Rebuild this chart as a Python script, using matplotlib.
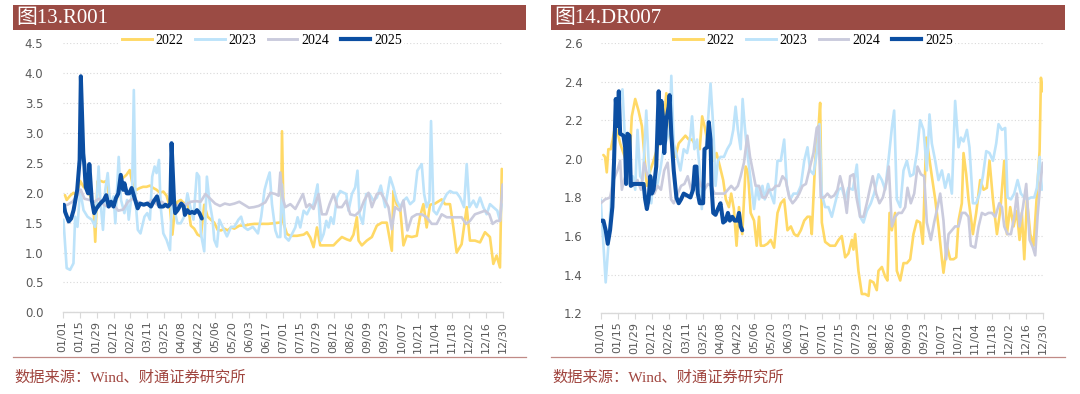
import matplotlib
matplotlib.use('Agg')
import matplotlib.pyplot as plt
from matplotlib.patches import Rectangle
from matplotlib.lines import Line2D
from matplotlib.font_manager import FontProperties

# ---------------- data ----------------
years = ['2022', '2023', '2024', '2025']
tick_labels = ['01/01', '01/15', '01/29', '02/12', '02/26', '03/11', '03/25', '04/08', '04/22',
               '05/06', '05/20', '06/03', '06/17', '07/01', '07/15', '07/29', '08/12', '08/26',
               '09/09', '09/23', '10/07', '10/21', '11/04', '11/18', '12/02', '12/16', '12/30']
tick_step_days = 14

titles = ['图13.R001', '图14.DR007']
source_text = '数据来源：Wind、财通证券研究所'

# R001 (day of year, value)
r001_2022_day = [1.9, 3.3, 6.1, 8.9, 11.6, 14.4, 17.2, 20.0, 22.7, 25.5, 26.9, 28.8, 31.1, 33.8, 36.6, 38.8,
                 41.6, 44.4, 47.1, 49.9, 52.7, 55.4, 58.2, 61.0, 63.8, 66.5, 69.3, 72.1, 74.9, 77.6, 80.4,
                 83.2, 85.9, 88.7, 90.7, 92.6, 94.8, 97.6, 100.4, 103.1, 105.9, 108.7, 111.5, 114.2, 117.0,
                 119.8, 122.5, 125.3, 128.1, 130.9, 133.6, 136.4, 139.2, 141.9, 146.1, 150.3, 154.4, 158.6,
                 164.1, 169.7, 174.4, 178.5, 180.5, 181.3, 182.7, 185.4, 188.2, 193.7, 199.2, 201.9, 204.7,
                 207.4, 210.2, 212.9, 218.4, 223.9, 226.7, 230.8, 234.9, 237.7, 240.4, 243.2, 244.6, 247.3,
                 251.4, 255.6, 259.7, 263.8, 267.9, 272.1, 273.4, 276.2, 278.9, 281.7, 284.4, 288.6, 292.7,
                 295.4, 298.2, 300.9, 303.7, 307.8, 313.3, 316.1, 320.2, 323.0, 325.7, 329.8, 334.0, 336.7,
                 340.8, 345.0, 349.1, 353.2, 356.0, 358.7, 361.5, 363.0]
r001_2022_val = [1.96, 1.88, 1.95, 2.0, 1.95, 2.2, 2.1, 2.05, 1.95, 1.75, 1.18, 2.19, 2.2, 2.18, 2.2, 1.85,
                 1.88, 1.85, 2.2, 2.25, 2.3, 2.38, 2.1, 2.05, 2.08, 2.1, 2.1, 2.12, 2.08, 2.05, 2.0,
                 2.02, 1.95, 1.75, 1.3, 1.7, 1.85, 1.88, 1.82, 1.85, 1.45, 1.4, 1.3, 1.27, 1.8,
                 1.6, 1.55, 1.5, 1.38, 1.37, 1.4, 1.37, 1.42, 1.4, 1.45, 1.45, 1.47, 1.48,
                 1.48, 1.48, 1.49, 1.5, 1.5, 3.03, 1.48, 1.31, 1.28, 1.28, 1.3, 1.34, 1.25,
                 1.09, 1.42, 1.12, 1.12, 1.12, 1.18, 1.26, 1.22, 1.2, 1.3, 1.59, 1.2, 1.12,
                 1.2, 1.26, 1.45, 1.5, 1.5, 1.03, 2.03, 1.8, 1.76, 1.12, 1.28, 1.26, 1.28,
                 1.6, 1.81, 1.42, 1.8, 1.82, 1.89, 1.81, 1.81, 1.42, 1.0, 1.14, 1.76, 1.2,
                 1.2, 1.17, 1.34, 1.26, 0.81, 0.95, 0.75, 2.4]

r001_2023_day = [0.6, 3.3, 6.1, 8.9, 10.3, 12.2, 14.4, 17.2, 20.5, 24.1, 26.9, 29.7, 31.1, 33.3, 35.2, 37.2,
                 39.4, 42.1, 43.5, 46.3, 48.2, 51.0, 53.2, 54.6, 57.4, 58.8, 60.2, 62.1, 64.3, 67.6, 69.9,
                 72.1, 74.0, 76.0, 77.6, 79.6, 81.0, 83.2, 85.9, 88.7, 90.7, 92.0, 94.8, 97.6, 100.4, 103.1,
                 105.4, 108.1, 110.9, 112.8, 114.2, 117.0, 119.2, 121.2, 123.9, 125.3, 127.5, 129.5, 132.2,
                 135.8, 139.2, 141.9, 145.3, 147.5, 149.7, 153.0, 157.2, 161.4, 164.1, 166.9, 168.9, 171.1,
                 173.0, 175.8, 177.7, 179.9, 181.3, 184.0, 186.8, 189.5, 192.3, 194.2, 196.4, 199.2, 201.9,
                 204.7, 207.4, 210.7, 213.5, 215.7, 217.9, 219.8, 221.7, 223.9, 226.7, 229.4, 232.2, 234.4,
                 236.3, 239.1, 241.8, 243.7, 245.4, 248.1, 250.9, 253.6, 256.9, 259.7, 263.0, 266.6, 270.7,
                 273.4, 276.2, 278.9, 281.7, 284.4, 287.2, 290.5, 293.2, 296.8, 298.8, 300.9, 303.2, 304.5,
                 306.5, 309.2, 312.0, 314.7, 317.5, 320.2, 323.0, 325.7, 328.5, 331.8, 334.0, 336.2, 339.5,
                 342.2, 345.0, 347.7, 350.5, 353.2, 356.0, 359.3, 361.5, 362.9]
r001_2023_val = [1.55, 0.74, 0.71, 0.82, 1.6, 1.43, 2.05, 1.71, 1.6, 1.55, 1.43, 2.44, 1.88, 1.38, 2.05, 2.33,
                 1.77, 1.94, 1.49, 2.6, 1.88, 1.66, 1.88, 1.55, 2.05, 3.72, 1.88, 1.38, 1.32, 1.6, 1.66,
                 1.55, 2.27, 2.44, 2.33, 2.55, 1.77, 1.32, 1.21, 1.04, 2.1, 1.77, 1.49, 1.49, 1.6, 1.99,
                 1.77, 1.55, 2.33, 2.27, 1.32, 1.02, 2.27, 1.88, 1.55, 1.21, 1.1, 1.55, 1.43,
                 1.27, 1.43, 1.43, 1.55, 1.6, 1.43, 1.38, 1.43, 1.32, 1.6, 2.05, 2.2, 2.34,
                 1.81, 1.37, 1.26, 1.26, 2.14, 1.26, 1.2, 1.31, 1.42, 1.59, 1.42, 1.7, 1.64,
                 1.76, 1.81, 2.14, 1.2, 1.31, 1.53, 1.42, 1.59, 1.48, 1.92, 2.03, 2.0, 1.98,
                 1.7, 1.98, 2.09, 2.37, 1.64, 1.48, 1.98, 1.98, 1.87, 1.92, 2.12, 1.76, 2.26,
                 2.09, 1.87, 1.76, 1.87, 1.92, 1.81, 1.87, 2.37, 2.48, 1.98, 1.76, 1.87, 3.2,
                 1.7, 1.64, 1.76, 1.87, 1.98, 2.03, 2.0, 2.0, 1.92, 1.76, 2.48, 1.76, 1.87,
                 1.76, 1.92, 1.76, 1.64, 1.81, 1.76, 1.7, 1.53, 1.81]

r001_2024_day = [0, 4, 8, 12, 15, 18, 22, 26, 30, 34, 38, 42, 46, 50, 54, 58, 62, 66, 70, 74, 78, 82, 86,
                 90, 94, 98, 102, 106, 110, 114, 118, 122, 126, 130, 134, 138, 142, 146, 150, 154, 158, 162,
                 167.5, 171.7, 175.8, 178.5, 179.9, 181.8, 184.0, 188.2, 192.3, 195.9, 198.6, 201.4, 204.1,
                 207.4, 211.5, 214.3, 217.9, 220.6, 223.9, 227.2, 230.8, 234.4, 237.7, 241.8, 245.9, 249.2,
                 252.8, 255.6, 259.7, 263.0, 266.6, 269.3, 272.1, 274.8, 278.9, 281.7, 285.0, 288.6, 292.7,
                 296.8, 300.9, 305.1, 309.2, 313.3, 317.5, 321.6, 325.7, 329.8, 333.4, 336.7, 340.8, 345.0,
                 349.1, 352.7, 355.4, 358.7, 361.5, 363.7]
r001_2024_val = [1.78, 1.8, 1.85, 1.95, 2.05, 1.9, 1.88, 1.85, 1.9, 1.8, 1.76, 1.8, 1.7, 1.72, 1.85, 1.9,
                 1.85, 1.8, 1.82, 1.88, 1.8, 1.85, 1.78, 1.8, 1.78, 1.82, 1.8, 1.85, 1.86, 1.85, 1.98,
                 1.9, 1.82, 1.78, 1.82, 1.8, 1.82, 1.85, 1.8, 1.75, 1.76, 1.78,
                 1.84, 2.0, 1.98, 1.95, 2.34, 1.92, 1.76, 1.81, 1.73, 1.87, 1.98, 1.76, 1.81,
                 1.73, 1.98, 1.64, 1.64, 1.81, 1.98, 1.76, 1.76, 1.87, 1.64, 1.62, 1.7, 1.87,
                 2.0, 1.76, 1.98, 2.0, 1.87, 1.76, 1.39, 1.76, 1.7, 1.87, 1.37, 1.59, 1.64,
                 1.64, 1.59, 1.48, 1.48, 1.64, 1.59, 1.59, 1.59, 1.59, 1.48, 1.53, 1.64, 1.67,
                 1.7, 1.64, 1.48, 1.53, 1.53, 2.14]

r001_2025_day = [1, 2, 5, 7, 9, 12, 14, 15, 17, 18, 19, 21, 22, 24, 26, 28, 31, 34, 36, 38, 40, 42, 44,
                 46, 48, 50, 51, 53, 55, 57, 59, 62, 64, 67, 70, 73, 75, 78, 80, 83, 85, 87, 89, 90, 92,
                 93, 95, 98, 100, 101, 103, 105, 107, 109, 111, 113, 115]
r001_2025_val = [1.80, 1.68, 1.52, 1.57, 1.71, 2.05, 2.55, 3.95, 2.66, 2.44, 2.10, 1.99, 2.48, 1.88, 1.66,
                 1.74, 1.82, 1.88, 1.96, 1.77, 1.85, 1.77, 1.91, 1.99, 2.30, 2.05, 2.16, 1.99, 1.99, 2.08,
                 1.94, 1.74, 1.82, 1.80, 1.82, 1.77, 1.85, 1.94, 1.77, 1.77, 1.80, 1.77, 1.82, 2.83, 1.88,
                 1.66, 1.71, 1.82, 1.77, 1.63, 1.71, 1.66, 1.68, 1.66, 1.71, 1.66, 1.57]

# DR007 (day of year, value)
dr007_2022_day = [2.2, 3.6, 5.0, 6.3, 8.3, 9.9, 11.8, 13.8, 16.0, 18.7, 20.9, 22.9, 25.6, 28.4, 31.1, 33.9,
                  35.8, 38.0, 40.8, 43.5, 46.3, 49.0, 51.8, 54.0, 55.9, 58.7, 61.4, 64.2, 66.9, 69.7, 72.5,
                  75.2, 77.1, 79.3, 81.5, 83.5, 85.4, 87.6, 90.4, 93.1, 95.3, 98.1, 100.8, 103.0, 105.5,
                  107.4, 109.6, 111.8, 113.8, 116.5, 119.3, 121.2, 123.4, 126.2, 128.4, 130.3, 131.7, 134.4,
                  137.2, 139.9, 142.7, 145.5, 148.2, 151.0, 153.7, 156.5, 159.2, 162.0, 164.7, 167.5, 170.2,
                  172.3, 173.7, 176.5, 179.2, 180.6, 182.0, 184.7, 188.8, 192.9, 195.7, 198.4, 201.2, 203.9,
                  206.7, 208.0, 209.4, 212.1, 214.9, 217.6, 220.4, 221.7, 224.5, 227.2, 228.6, 231.4, 234.1,
                  236.0, 237.7, 239.6, 242.3, 243.7, 246.5, 249.2, 252.0, 254.7, 257.4, 260.2, 262.9, 265.1,
                  267.9, 269.8, 272.5, 275.3, 278.0, 280.8, 282.1, 284.9, 287.6, 290.4, 292.6, 294.5, 297.2,
                  298.6, 300.8, 302.7, 304.6, 306.3, 309.0, 312.3, 315.1, 317.8, 320.0, 322.8, 326.1, 328.8,
                  332.1, 334.3, 337.0, 339.8, 342.5, 344.7, 346.6, 348.6, 350.8, 353.5, 356.3, 359.0, 361.2,
                  362.3, 363.7]
dr007_2022_val = [2.02, 2.01, 1.93, 2.05, 2.05, 2.1, 2.17, 2.14, 2.08, 2.03, 1.99, 1.89, 2.22, 2.31, 2.25, 2.17,
                  2.03, 1.86, 1.94, 1.99, 2.05, 2.1, 2.18, 2.34, 2.2, 2.06, 2.01, 2.08, 2.1, 2.12, 2.1,
                  2.1, 2.08, 2.06, 2.05, 2.22, 2.17, 2.1, 2.08, 1.99, 2.03, 1.96, 1.89, 1.79, 1.75,
                  1.82, 1.74, 1.55, 1.75, 1.61, 1.96, 1.93, 1.72, 1.68, 1.55, 1.7, 1.55, 1.55,
                  1.56, 1.58, 1.54, 1.72, 1.77, 1.79, 1.63, 1.65, 1.61, 1.6, 1.63, 1.68, 1.7,
                  1.7, 1.61, 1.99, 2.16, 2.29, 1.67, 1.57, 1.55, 1.55, 1.58, 1.6, 1.49, 1.51,
                  1.58, 1.53, 1.61, 1.42, 1.3, 1.3, 1.29, 1.37, 1.36, 1.32, 1.42, 1.44, 1.39,
                  1.37, 1.72, 1.63, 1.72, 1.42, 1.37, 1.46, 1.46, 1.48, 1.61, 1.68, 1.67, 1.56,
                  2.11, 2.03, 1.91, 1.79, 1.65, 1.48, 1.41, 1.55, 1.48, 1.48, 1.49, 1.68, 1.77,
                  2.03, 1.92, 1.79, 1.7, 1.61, 1.72, 1.89, 1.84, 1.85, 1.99, 1.79, 1.61, 1.73,
                  1.99, 1.61, 1.75, 1.65, 1.73, 1.58, 1.72, 1.48, 1.79, 1.61, 1.55, 1.82, 2.04,
                  2.42, 2.35]

dr007_2023_day = [0, 2.2, 4.1, 6.3, 8.3, 10.5, 13.2, 16.0, 17.9, 20.1, 22.9, 26.4, 28.4, 30.3, 32.5, 34.7,
                  37.5, 39.4, 41.6, 43.5, 46.3, 49.0, 51.8, 54.5, 56.7, 58.1, 60.1, 62.8, 65.6, 68.3, 71.1,
                  73.8, 75.2, 77.1, 79.3, 81.5, 83.2, 84.8, 87.6, 90.4, 92.6, 94.5, 96.4, 98.6, 101.4, 104.1,
                  106.9, 109.1, 111.0, 112.9, 115.2, 116.8, 118.5, 120.7, 123.4, 126.2, 128.4, 130.3, 133.1,
                  135.0, 137.7, 139.9, 142.7, 145.5, 148.2, 151.0, 153.2, 155.9, 158.7, 162.0, 164.7, 167.5,
                  170.2, 172.3, 175.1, 177.8, 180.0, 181.9, 184.7, 187.4, 190.2, 192.9, 195.7, 198.4, 201.2,
                  203.9, 207.5, 210.8, 213.5, 216.3, 219.0, 222.3, 225.0, 228.6, 231.4, 234.1, 236.8, 239.6,
                  241.5, 243.7, 246.5, 249.2, 252.0, 254.7, 257.4, 260.2, 262.9, 265.7, 268.4, 270.6, 272.5,
                  275.3, 278.0, 280.8, 283.5, 286.3, 289.0, 291.7, 294.5, 296.4, 298.6, 301.4, 303.5, 306.3,
                  309.0, 311.8, 314.5, 317.3, 320.0, 322.8, 325.5, 327.4, 330.2, 332.9, 334.8, 337.6, 340.3,
                  343.1, 345.8, 348.6, 351.3, 354.1, 356.8, 359.0, 361.2, 363.1]
dr007_2023_val = [1.79, 1.56, 1.36, 1.55, 1.77, 1.99, 2.2, 2.31, 2.36, 2.08, 1.87, 1.91, 1.84, 2.15, 1.91, 1.89,
                  2.25, 1.99, 1.77, 1.89, 1.86, 1.94, 2.06, 2.1, 2.15, 2.43, 2.08, 2.01, 1.94, 2.05, 2.03,
                  2.12, 2.22, 2.05, 2.1, 1.94, 1.74, 1.94, 2.13, 2.39, 2.17, 1.86, 1.99, 2.01, 2.01, 2.05,
                  2.08, 2.15, 2.27, 2.15, 2.05, 2.31, 2.17, 2.03, 1.89, 1.74, 1.86, 1.79, 1.86,
                  1.79, 1.87, 1.82, 1.77, 1.99, 1.99, 2.1, 1.86, 1.79, 1.82, 1.82, 1.86, 1.99,
                  2.06, 1.94, 1.92, 2.03, 2.18, 1.82, 1.75, 1.75, 1.7, 1.77, 1.84, 1.85, 1.79,
                  1.85, 1.84, 1.97, 1.7, 1.67, 1.73, 1.77, 1.82, 1.92, 1.89, 1.84, 1.99, 2.16,
                  2.25, 1.79, 1.75, 1.94, 1.99, 1.91, 1.92, 2.03, 2.2, 2.15, 1.94, 2.23, 2.08,
                  1.99, 1.89, 1.94, 1.85, 1.92, 1.82, 2.3, 2.06, 2.11, 2.09, 2.15, 2.06, 1.77,
                  1.77, 1.82, 1.91, 2.04, 2.03, 1.99, 2.08, 2.18, 2.15, 2.16, 1.8, 1.79, 1.82,
                  1.89, 1.82, 1.8, 1.79, 1.8, 1.8, 1.85, 2.01, 1.84]

dr007_2024_day = [0, 3.6, 7.7, 10.5, 13.8, 16.0, 17.4, 19.3, 22.0, 24.8, 27.5, 30.3, 33.1, 35.8, 38.6, 41.3,
                  44.1, 46.8, 49.6, 52.3, 55.1, 57.9, 60.1, 63.4, 66.1, 68.9, 71.6, 74.4, 77.1, 79.9, 82.6,
                  85.4, 88.2, 90.9, 93.7, 96.4, 99.2, 101.9, 104.7, 107.4, 110.2, 112.9, 115.2, 117.9, 120.7,
                  122.9, 125.1, 127.5, 130.3, 133.1, 135.8, 138.6, 141.3, 144.1, 146.8, 149.6, 152.3, 155.1,
                  157.9, 160.6, 163.4, 166.1, 168.9, 172.3, 175.1, 177.8, 179.2, 181.1, 183.9, 186.6, 189.4,
                  192.1, 194.8, 197.0, 199.8, 202.5, 205.3, 208.0, 210.8, 213.5, 216.3, 219.0, 221.7, 223.9,
                  226.7, 229.4, 232.2, 234.9, 237.1, 239.6, 242.3, 245.1, 247.8, 250.6, 252.5, 255.2, 258.0,
                  260.7, 263.5, 266.2, 268.4, 271.7, 274.4, 277.2, 279.4, 282.1, 284.3, 286.3, 289.0, 291.7,
                  294.5, 297.2, 300.0, 302.7, 304.6, 308.2, 311.0, 313.7, 316.4, 319.2, 321.9, 324.7, 328.0,
                  330.2, 332.1, 334.8, 337.6, 340.3, 342.5, 344.7, 347.5, 350.2, 353.0, 355.7, 357.6, 359.5,
                  361.7, 363.9]
dr007_2024_val = [1.77, 1.79, 1.8, 1.89, 1.94, 1.99, 1.84, 1.89, 1.94, 1.89, 1.86, 1.89, 1.84, 1.98, 1.91, 1.87,
                  1.82, 1.86, 1.84, 1.94, 1.98, 1.79, 1.77, 1.82, 1.86, 1.87, 1.91, 1.84, 1.89, 1.91, 1.86,
                  1.84, 1.87, 1.86, 1.82, 1.82, 1.82, 1.82, 1.84, 1.86, 1.84, 1.86, 1.91, 1.98, 2.12,
                  2.01, 1.94, 1.86, 1.86, 1.8, 1.8, 1.84, 1.84, 1.86, 1.86, 1.91, 1.89, 1.8,
                  1.77, 1.79, 1.82, 1.86, 1.87, 1.96, 2.03, 2.16, 2.17, 1.8, 1.8, 1.82, 1.8,
                  1.81, 1.84, 1.91, 1.84, 1.72, 1.91, 1.92, 1.79, 1.7, 1.7, 1.77, 1.85, 1.91,
                  1.82, 1.77, 1.8, 1.87, 1.96, 1.65, 1.7, 1.72, 1.72, 1.75, 1.85, 1.77, 1.82,
                  1.96, 1.92, 1.91, 1.67, 1.58, 1.67, 1.75, 1.82, 1.68, 1.48, 1.61, 1.63, 1.65,
                  1.65, 1.72, 1.72, 1.7, 1.55, 1.54, 1.65, 1.72, 1.71, 1.72, 1.72, 1.7, 1.77,
                  1.75, 1.65, 1.61, 1.61, 1.7, 1.82, 1.65, 1.75, 1.87, 1.58, 1.54, 1.5, 1.7,
                  1.87, 1.98]

dr007_2025_day = [0.8, 2.2, 4.1, 5.8, 7.7, 9.6, 11.0, 12.4, 13.8, 14.9, 16.0, 18.7, 20.1, 20.9, 22.0, 23.7,
                  24.8, 27.0, 29.8, 32.5, 35.3, 36.6, 38.0, 39.4, 40.8, 42.1, 43.5, 45.7, 47.7, 49.0, 49.9,
                  51.2, 52.3, 54.0, 55.9, 56.7, 58.1, 60.1, 62.3, 64.2, 66.1, 68.3, 71.1, 73.8, 76.0, 77.4,
                  78.8, 79.9, 81.5, 84.3, 85.4, 87.6, 89.0, 90.4, 91.2, 92.6, 94.5, 96.4, 98.6, 100.8,
                  102.8, 104.7, 106.3, 108.3, 110.2, 112.4, 113.8, 115.2, 116.5]
dr007_2025_val = [1.68, 1.68, 1.63, 1.56, 1.63, 1.75, 1.99, 2.31, 2.17, 2.35, 2.13, 2.12, 2.06, 1.87, 2.13, 2.12,
                  1.86, 1.87, 1.87, 1.87, 1.87, 1.79, 1.74, 1.79, 1.91, 1.82, 1.84, 1.96, 2.35, 2.08, 2.30,
                  2.22, 2.03, 2.2, 2.27, 2.33, 2.13, 1.94, 1.8, 1.77, 1.79, 1.82, 1.81, 1.8, 1.84, 1.96,
                  1.96, 1.82, 1.77, 1.77, 2.05, 2.06, 2.19, 2.1, 1.86, 1.72, 1.71, 1.74, 1.77, 1.67,
                  1.68, 1.72, 1.68, 1.7, 1.68, 1.68, 1.72, 1.65, 1.63]

r001_series = {'2022': (r001_2022_day, r001_2022_val), '2023': (r001_2023_day, r001_2023_val),
               '2024': (r001_2024_day, r001_2024_val), '2025': (r001_2025_day, r001_2025_val)}
dr007_series = {'2022': (dr007_2022_day, dr007_2022_val), '2023': (dr007_2023_day, dr007_2023_val),
                '2024': (dr007_2024_day, dr007_2024_val), '2025': (dr007_2025_day, dr007_2025_val)}

r001_yticks = [0.0, 0.5, 1.0, 1.5, 2.0, 2.5, 3.0, 3.5, 4.0, 4.5]
dr007_yticks = [1.2, 1.4, 1.6, 1.8, 2.0, 2.2, 2.4, 2.6]

# ---------------- style ----------------
colors = {'2022': '#FFD966', '2023': '#BDE3FA', '2024': '#CACBDD', '2025': '#0B4EA2'}
widths = {'2022': 1.9, '2023': 1.9, '2024': 1.9, '2025': 2.9}
BAR = '#9B4B44'
SRC = '#A0453F'
GRID = '#D9D9D9'
TICK = '#595959'

W, H = 1080, 394
fig = plt.figure(figsize=(W / 100, H / 100), dpi=100)
fig.patch.set_facecolor('white')

panels = [
    dict(title=titles[0], bar=(13, 526), axx=(62.7, 503), axy=(43.4, 312.3), series=r001_series,
         yticks=r001_yticks, legend_cx=262, ypad=14),
    dict(title=titles[1], bar=(551, 1065), axx=(600.7, 1043), axy=(43.0, 313.3), series=dr007_series,
         yticks=dr007_yticks, legend_cx=813, ypad=13),
]

serif_cjk = ['Liberation Serif', 'Noto Sans CJK SC']

for p in panels:
    x0, x1 = p['bar']
    fig.add_artist(Rectangle((x0 / W, 1 - 30 / H), (x1 - x0) / W, 25 / H, transform=fig.transFigure,
                             facecolor=BAR, edgecolor='none'))
    fig.text((x0 + 3) / W, 1 - 18.5 / H, p['title'], color='white', fontsize=15, family=serif_cjk,
             ha='left', va='center')

    ax0, ax1 = p['axx']
    ay0, ay1 = p['axy']
    ax = fig.add_axes([ax0 / W, 1 - ay1 / H, (ax1 - ax0) / W, (ay1 - ay0) / H])
    for yr in years:
        d, v = p['series'][yr]
        ax.plot(d, v, color=colors[yr], lw=widths[yr], solid_joinstyle='round', solid_capstyle='round',
                zorder=3)
    yt = p['yticks']
    ax.set_xlim(0, (len(tick_labels) - 1) * tick_step_days)
    ax.set_ylim(yt[0], yt[-1])
    ax.set_xticks([i * tick_step_days for i in range(len(tick_labels))])
    ax.set_xticklabels(tick_labels, rotation=90)
    ax.set_yticks(yt)
    ax.set_yticklabels([f'{t:.1f}' for t in yt])
    ax.tick_params(axis='x', length=4, width=0.8, color=GRID, pad=2, labelsize=8, labelcolor=TICK)
    ax.tick_params(axis='y', length=0, pad=p['ypad'], labelsize=8.5, labelcolor=TICK)
    for s in ['top', 'right', 'left']:
        ax.spines[s].set_visible(False)
    ax.spines['bottom'].set_color(GRID)
    ax.spines['bottom'].set_linewidth(1.0)
    ax.yaxis.grid(True, linestyle=(0, (1, 2)), color=GRID, lw=0.8)
    ax.set_axisbelow(True)
    ax.patch.set_alpha(0)

    handles = [Line2D([], [], color=colors[yr], lw=(3.0 if yr == '2025' else 2.1)) for yr in years]
    leg = ax.legend(handles, years, loc='center', bbox_to_anchor=(p['legend_cx'] / W, 1 - 40 / H),
                    bbox_transform=fig.transFigure, ncol=4, frameon=True, facecolor='white',
                    edgecolor='none', framealpha=1, fancybox=False,
                    prop=FontProperties(family='Liberation Serif', size=10),
                    handlelength=2.1, handletextpad=0.25, columnspacing=0.9, borderpad=0.2)
    leg.set_zorder(5)

    fig.add_artist(Line2D([x0 / W, x1 / W], [1 - 357 / H, 1 - 357 / H], transform=fig.transFigure,
                          color='#C08A86', lw=0.9))
    fig.text((x0 + 1) / W, 1 - 378 / H, source_text, color=SRC, fontsize=11, family=serif_cjk,
             ha='left', va='center')

fig.savefig('out.png', dpi=100, facecolor='white')
